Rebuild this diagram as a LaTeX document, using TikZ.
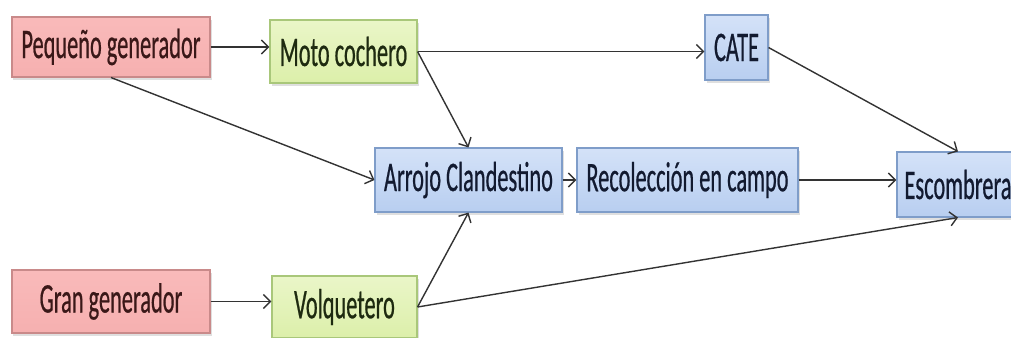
\documentclass[tikz,border=0pt]{standalone}
\usepackage{fontspec}
\setmainfont{Carlito}[FakeStretch=0.53,FakeBold=0.5]
\usetikzlibrary{shadows,arrows.meta}
\definecolor{redtop}{HTML}{F9BABA}
\definecolor{redbot}{HTML}{F6B0B0}
\definecolor{redline}{HTML}{C98A8A}
\definecolor{redtext}{HTML}{3A1818}
\definecolor{greentop}{HTML}{EAF6C8}
\definecolor{greenbot}{HTML}{DCEFAA}
\definecolor{greenline}{HTML}{A9C77A}
\definecolor{greentext}{HTML}{1E2A10}
\definecolor{bluetop}{HTML}{D4E2F8}
\definecolor{bluebot}{HTML}{B8CEF0}
\definecolor{blueline}{HTML}{7F9DC9}
\definecolor{bluetext}{HTML}{121A30}
\definecolor{arrowgray}{HTML}{333333}
\tikzset{
  box/.style={line width=0.6pt, inner sep=0pt, font=\fontsize{24}{28}\selectfont,
    drop shadow={shadow xshift=0.03cm, shadow yshift=-0.05cm, opacity=0.25}},
  redbox/.style={box, draw=redline, top color=redtop, bottom color=redbot, text=redtext},
  greenbox/.style={box, draw=greenline, top color=greentop, bottom color=greenbot, text=greentext},
  bluebox/.style={box, draw=blueline, top color=bluetop, bottom color=bluebot, text=bluetext},
  flow/.style={-{Straight Barb[length=4pt,width=8pt]}, line width=0.8pt, draw=arrowgray}
}
\begin{document}
\begin{tikzpicture}
    \useasboundingbox (0,0) rectangle (20.22,-6.74);
    \node[redbox, minimum width=3.96cm, minimum height=1.2cm] (peq) at (2.22,-0.94) {Pequeño generador};
    \node[greenbox, minimum width=2.94cm, minimum height=1.26cm] (moto) at (6.87,-1.03) {Moto cochero};
    \node[bluebox, minimum width=1.26cm, minimum height=1.3cm] (cate) at (14.73,-0.95) {CATE};
    \node[bluebox, minimum width=3.74cm, minimum height=1.28cm] (arrojo) at (9.37,-3.6) {Arrojo Clandestino};
    \node[bluebox, minimum width=4.42cm, minimum height=1.28cm] (recol) at (13.75,-3.6) {Recolección en campo};
    \node[bluebox, minimum width=2.44cm, minimum height=1.3cm] (escom) at (19.16,-3.69) {Escombrera};
    \node[redbox, minimum width=3.96cm, minimum height=1.26cm] (gran) at (2.22,-6.03) {Gran generador};
    \node[greenbox, minimum width=2.9cm, minimum height=1.24cm] (volq) at (6.89,-6.14) {Volquetero};
    \draw[flow] (peq.east) -- (peq.east -| moto.west);
    \draw[flow] (moto.east) -- (moto.east -| cate.west);
    \draw[flow] (peq.south) -- (arrojo.west);
    \draw[flow] (moto.east) -- (arrojo.north);
    \draw[flow] (arrojo.east) -- (recol.west);
    \draw[flow] (recol.east) -- (recol.east -| escom.west);
    \draw[flow] (cate.east) -- (escom.north);
    \draw[flow] (gran.east) -- (gran.east -| volq.west);
    \draw[flow] (volq.east) -- (arrojo.south);
    \draw[flow] (volq.east) -- (escom.south);
\end{tikzpicture}
\end{document}
